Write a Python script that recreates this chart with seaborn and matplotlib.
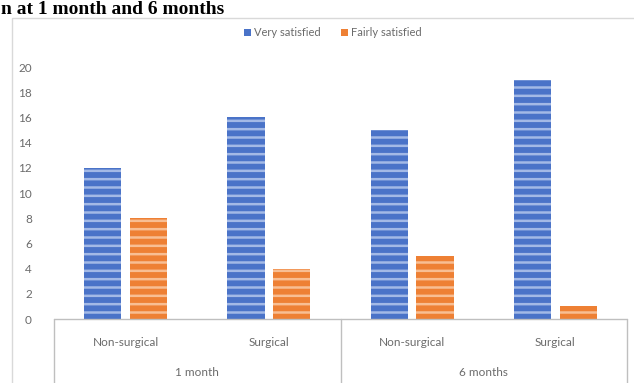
import matplotlib
matplotlib.use("Agg")
import matplotlib.pyplot as plt
from matplotlib.patches import Rectangle, Patch
from matplotlib.lines import Line2D
import seaborn as sns
import pandas as pd

# data
periods = ["1 month", "1 month", "6 months", "6 months"]
groups = ["Non-surgical", "Surgical", "Non-surgical", "Surgical"]
very_satisfied = [12, 16, 15, 19]
fairly_satisfied = [8, 4, 5, 1]
series = ["Very satisfied", "Fairly satisfied"]
y_ticks = [0, 2, 4, 6, 8, 10, 12, 14, 16, 18, 20]

keys = [p + " | " + g for p, g in zip(periods, groups)]
df = pd.DataFrame({
    "key": keys * 2,
    "series": [series[0]] * 4 + [series[1]] * 4,
    "count": very_satisfied + fairly_satisfied,
})

sns.set_style("white")
plt.rcParams['font.family'] = ['Lato', 'DejaVu Sans']
plt.rcParams['hatch.linewidth'] = 1.8

W, H = 634, 383
fig = plt.figure(figsize=(W / 100, H / 100), dpi=100)
ax = fig.add_axes([54 / W, (H - 319) / H, (627 - 54) / W, (319 - 67) / H])

palette = {"Very satisfied": "#4A73C8", "Fairly satisfied": "#EE8034"}
hatch_cols = {"Very satisfied": "#A3B9E6", "Fairly satisfied": "#F8BE93"}
sns.barplot(data=df, x="key", y="count", hue="series", order=keys,
            hue_order=series, palette=palette, width=0.64, gap=0.19,
            ax=ax, legend=False, saturation=1)

# horizontal stripe texture on the bars
for cont, s in zip(ax.containers, series):
    for bar in cont:
        bar.set_hatch("--")
        bar.set_linewidth(0)
        try:
            bar.set_hatchcolor(hatch_cols[s])
        except AttributeError:
            bar.set_edgecolor(hatch_cols[s])

ax.set_ylim(0, 20)
ax.set_xlim(-0.5, 3.5)
ax.set_yticks(y_ticks)
ax.set_ylabel("")
ax.set_xlabel("")
ax.set_xticks(range(4))
ax.set_xticklabels(groups)
ax.tick_params(axis="y", length=0, pad=16, labelsize=8.5, labelcolor="#6B6B6B")
ax.tick_params(axis="x", length=0, pad=13, labelsize=8.5, labelcolor="#6B6B6B")
for sp in ax.spines.values():
    sp.set_visible(False)

# two-level category axis frame
line_c = "#BFBFBF"
ax.plot([-0.5, 3.5], [0, 0], color=line_c, lw=1, clip_on=False)
for xv in [-0.5, 1.5, 3.5]:
    ax.add_line(Line2D([xv, xv], [0, -70 / 12.6], color=line_c, lw=1,
                       clip_on=False))
for xc, lab in [(0.5, "1 month"), (2.5, "6 months")]:
    ax.text(xc, -53 / 12.6, lab, ha="center", va="center", fontsize=8.5,
            color="#6B6B6B", clip_on=False)

# legend at top
handles = [Patch(facecolor=palette[s], edgecolor="none") for s in series]
fig.legend(handles, series, loc="center", bbox_to_anchor=(333 / W, 1 - 33 / H),
           ncol=2, frameon=False, fontsize=8, labelcolor="#6B6B6B",
           handlelength=0.6, handleheight=0.6, handletextpad=0.3,
           columnspacing=1.8)

# chart border
fig.patches.append(Rectangle((12 / W, -0.05), (W - 12) / W + 0.05, 1.05 - 18 / H,
                             transform=fig.transFigure, fill=False,
                             edgecolor="#D9D9D9", lw=1))

# caption above the chart
fig.text(1 / W, 1 - 13.5 / H, "n at 1 month and 6 months", ha="left",
         va="baseline", fontsize=14, fontweight="bold",
         family=["Liberation Serif", "DejaVu Serif"], color="black")

fig.savefig("out.png", dpi=100)
